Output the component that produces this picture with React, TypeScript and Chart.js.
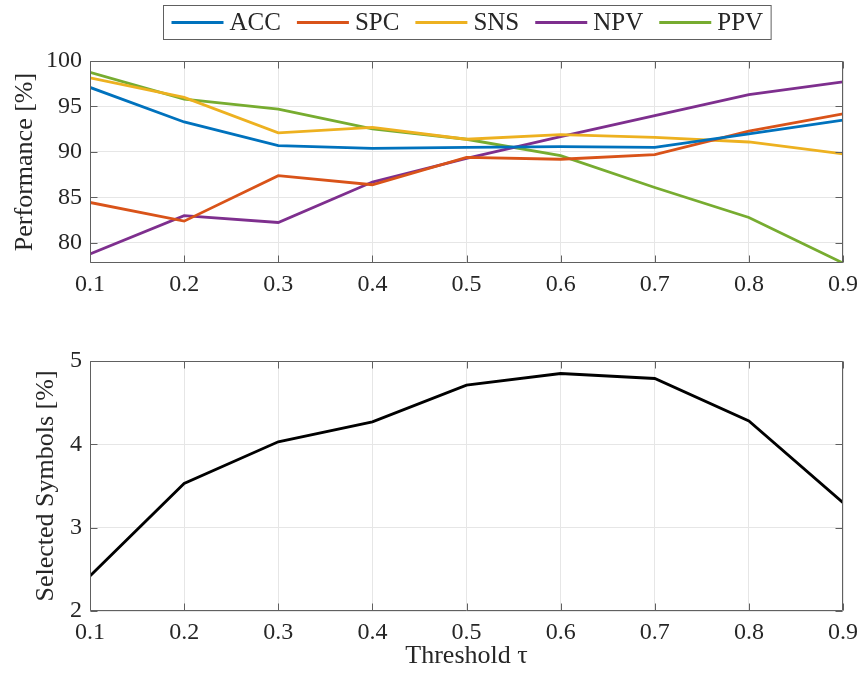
import React, { useEffect, useRef } from 'react';
import { Chart, registerables } from 'chart.js';

Chart.register(...registerables);

// ---- data ----
const thresholds = [0.1, 0.2, 0.3, 0.4, 0.5, 0.6, 0.7, 0.8, 0.9];
const seriesNames = ['ACC', 'SPC', 'SNS', 'NPV', 'PPV'];
const acc = [97.1, 93.3, 90.7, 90.4, 90.5, 90.6, 90.5, 92.0, 93.5];
const spc = [84.45, 82.4, 87.4, 86.4, 89.4, 89.2, 89.7, 92.3, 94.2];
const sns = [98.15, 96.0, 92.1, 92.7, 91.4, 91.9, 91.6, 91.1, 89.8];
const npv = [78.8, 83.0, 82.25, 86.7, 89.3, 91.7, 94.0, 96.3, 97.7];
const ppv = [98.75, 95.8, 94.7, 92.55, 91.4, 89.6, 86.1, 82.8, 77.8];
const selectedSymbols = [2.42, 3.53, 4.03, 4.27, 4.71, 4.85, 4.79, 4.28, 3.3];

const xTicks = [0.1, 0.2, 0.3, 0.4, 0.5, 0.6, 0.7, 0.8, 0.9];
const perfTicks = [80, 85, 90, 95, 100];
const selTicks = [2, 3, 4, 5];

// ---- styles ----
const FONT = '"Liberation Serif", "Times New Roman", serif';
const TEXT = '#262626';
const GRID = '#e6e6e6';
const FRAME = '#606060';
const COLORS = ['#0072BD', '#D95319', '#EDB120', '#7E2F8E', '#77AC30'];
const LINE_W = 2.8;

const toPoints = (ys: number[]) => thresholds.map((x, i) => ({ x, y: ys[i] }));

const framePlugin = {
  id: 'matlabFrame',
  afterDatasetsDraw(chart: any) {
    const { ctx, chartArea: a, scales } = chart;
    const L = Math.round(a.left) + 0.5;
    const R = Math.round(a.right) - 0.5;
    const T = Math.round(a.top) + 0.5;
    const B = Math.round(a.bottom) - 0.5;
    ctx.save();
    ctx.strokeStyle = FRAME;
    ctx.lineWidth = 1;
    ctx.beginPath();
    ctx.rect(L, T, R - L, B - T);
    const tl = 7;
    scales.x.ticks.forEach((t: any) => {
      const px = Math.round(scales.x.getPixelForValue(t.value)) + 0.5;
      ctx.moveTo(px, B);
      ctx.lineTo(px, B - tl);
      ctx.moveTo(px, T);
      ctx.lineTo(px, T + tl);
    });
    scales.y.ticks.forEach((t: any) => {
      const py = Math.round(scales.y.getPixelForValue(t.value)) + 0.5;
      ctx.moveTo(L, py);
      ctx.lineTo(L + tl, py);
      ctx.moveTo(R, py);
      ctx.lineTo(R - tl, py);
    });
    ctx.stroke();
    ctx.restore();
  },
};

const legendPlugin = {
  id: 'boxLegend',
  afterDraw(chart: any) {
    const { ctx, chartArea: a } = chart;
    const ds = chart.data.datasets;
    ctx.save();
    ctx.font = `25px ${FONT}`;
    const lineLen = 52;
    const gap = 6;
    const itemGap = 16;
    const padX = 8;
    const widths = ds.map((d: any) => ctx.measureText(d.label).width);
    let total = 0;
    widths.forEach((w: number, i: number) => {
      total += lineLen + gap + w + (i > 0 ? itemGap : 0);
    });
    const boxW = total + padX * 2;
    const cx = (a.left + a.right) / 2;
    const boxL = Math.round(cx - boxW / 2) + 0.5;
    const boxT = 5.5;
    const boxH = 34;
    ctx.fillStyle = '#ffffff';
    ctx.fillRect(boxL, boxT, boxW, boxH);
    ctx.strokeStyle = FRAME;
    ctx.lineWidth = 1;
    ctx.strokeRect(boxL, boxT, boxW, boxH);
    const cy = boxT + boxH / 2;
    let x = boxL + padX;
    ds.forEach((d: any, i: number) => {
      ctx.strokeStyle = d.borderColor;
      ctx.lineWidth = LINE_W;
      ctx.beginPath();
      ctx.moveTo(x, cy);
      ctx.lineTo(x + lineLen, cy);
      ctx.stroke();
      x += lineLen + gap;
      ctx.fillStyle = TEXT;
      ctx.textBaseline = 'middle';
      ctx.textAlign = 'left';
      ctx.fillText(d.label, x, cy + 1);
      x += widths[i] + itemGap;
    });
    ctx.restore();
  },
};

function xScale(height: number) {
  return {
    type: 'linear',
    min: 0.1,
    max: 0.9,
    afterBuildTicks: (s: any) => {
      s.ticks = xTicks.map((v) => ({ value: v }));
    },
    afterFit: (s: any) => {
      s.height = height;
    },
    ticks: {
      autoSkip: false,
      maxRotation: 0,
      padding: 7,
      color: TEXT,
      font: { family: FONT, size: 24 },
      callback: (v: any) => Number(v).toFixed(1),
    },
    grid: { color: GRID, lineWidth: 1, drawTicks: false },
    border: { display: false },
  };
}

function yScale(min: number, max: number, ticks: number[], title: string, titlePad: number) {
  return {
    type: 'linear',
    min,
    max,
    afterBuildTicks: (s: any) => {
      s.ticks = ticks.map((v) => ({ value: v }));
    },
    afterFit: (s: any) => {
      s.width = 90;
    },
    ticks: {
      padding: 8,
      color: TEXT,
      font: { family: FONT, size: 24 },
      callback: (v: any) => String(v),
    },
    grid: { color: GRID, lineWidth: 1, drawTicks: false },
    border: { display: false },
    title: {
      display: true,
      text: title,
      color: TEXT,
      font: { family: FONT, size: 26 },
      padding: { top: titlePad, bottom: 0 },
    },
  };
}

export default function App() {
  const topRef = useRef<HTMLCanvasElement | null>(null);
  const botRef = useRef<HTMLCanvasElement | null>(null);

  useEffect(() => {
    const perfSeries = [acc, spc, sns, npv, ppv];
    const top = new Chart(topRef.current as HTMLCanvasElement, {
      type: 'line',
      data: {
        datasets: perfSeries.map((s, i) => ({
          label: seriesNames[i],
          data: toPoints(s),
          borderColor: COLORS[i],
          backgroundColor: COLORS[i],
          borderWidth: LINE_W,
          pointRadius: 0,
          tension: 0,
        })),
      },
      options: {
        responsive: false,
        animation: false,
        devicePixelRatio: 1,
        layout: { padding: { top: 61, left: 0, right: 18, bottom: 0 } },
        plugins: { legend: { display: false }, tooltip: { enabled: false } },
        scales: {
          x: xScale(37),
          y: yScale(77.8, 100, perfTicks, 'Performance [%]', 10),
        } as any,
      },
      plugins: [framePlugin, legendPlugin],
    } as any);

    const bottom = new Chart(botRef.current as HTMLCanvasElement, {
      type: 'line',
      data: {
        datasets: [
          {
            label: 'Selected Symbols',
            data: toPoints(selectedSymbols),
            borderColor: '#000000',
            backgroundColor: '#000000',
            borderWidth: LINE_W,
            pointRadius: 0,
            tension: 0,
          },
        ],
      },
      options: {
        responsive: false,
        animation: false,
        devicePixelRatio: 1,
        layout: { padding: { top: 61, left: 0, right: 18, bottom: 0 } },
        plugins: { legend: { display: false }, tooltip: { enabled: false } },
        scales: {
          x: {
            ...xScale(64),
            title: {
              display: true,
              text: 'Threshold τ',
              color: TEXT,
              font: { family: FONT, size: 26 },
              padding: { top: 0, bottom: 3 },
            },
          },
          y: yScale(2, 5, selTicks, 'Selected Symbols [%]', 31),
        } as any,
      },
      plugins: [framePlugin],
    } as any);

    return () => {
      top.destroy();
      bottom.destroy();
    };
  }, []);

  return (
    <div style={{ position: 'absolute', left: 0, top: 0, width: 865, height: 675, background: '#fff' }}>
      <canvas ref={topRef} width={865} height={300} style={{ position: 'absolute', left: 0, top: 0, width: 865, height: 300 }} />
      <canvas ref={botRef} width={865} height={375} style={{ position: 'absolute', left: 0, top: 300, width: 865, height: 375 }} />
    </div>
  );
}
